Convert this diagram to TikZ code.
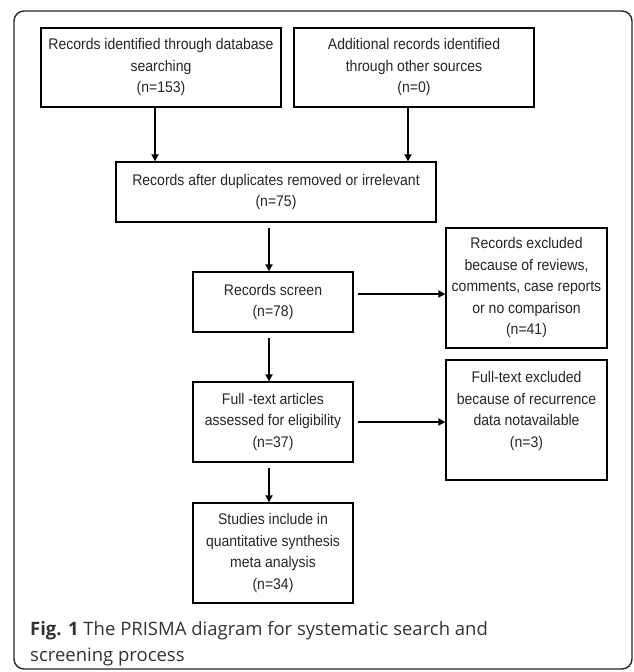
\documentclass[tikz,border=0pt]{standalone}
\usepackage{fontspec}
\setmainfont{Liberation Sans}[FakeStretch=0.91]
\newfontfamily\capfont{Open Sans}
\usetikzlibrary{positioning,arrows.meta}

\begin{document}
\begin{tikzpicture}[x=1pt,y=-1pt,
		box/.style={draw,line width=1.3pt,align=center,inner sep=0pt,text=black!85,font=\fontsize{15.4}{21.5}\selectfont},
		arr/.style={line width=1.7pt,-{Triangle[length=7pt,width=7pt]}}]
		\useasboundingbox (0,0) rectangle (633,672);
		\draw [line width=1.4pt,black!85,rounded corners=10pt] (14,11) rectangle (632,669);
		% top row
		\node [box,minimum width=240pt,minimum height=79pt] (db) at (161,67.5) {Records identified through database\\searching\\(n=153)};
		\node [box,minimum width=240pt,minimum height=79pt] (other) at (414,67.5) {Additional records identified\\through other sources\\(n=0)};
		\node [box,minimum width=320pt,minimum height=60pt] (dup) at (276,192) {Records after duplicates removed or irrelevant\\(n=75)};
		% main column
		\node [box,minimum width=160pt,minimum height=60pt] (screen) at (273,302) {Records screen\\(n=78)};
		\node [box,minimum width=160pt,minimum height=80pt] (full) at (273,422) {Full -text articles\\assessed for eligibility\\(n=37)};
		\node [box,minimum width=160pt,minimum height=100pt] (incl) at (273,553) {Studies include in\\quantitative synthesis\\meta analysis\\(n=34)};
		% excluded
		\node [box,minimum width=161pt,minimum height=120pt] (exrec) at (526.5,288) {Records excluded\\because of reviews,\\comments, case reports\\or no comparison\\(n=41)};
		\node [box,minimum width=161pt,minimum height=120pt] (exfull) at (526.5,420) {Full-text excluded\\because of recurrence\\data notavailable\\(n=3)\\\mbox{}};
		\coordinate (c1) at (155,0);
		\coordinate (c2) at (408,0);
		\coordinate (c3) at (269,0);
		\draw [arr] (c1 |- db.south) -- (c1 |- dup.north);
		\draw [arr] (c2 |- other.south) -- (c2 |- dup.north);
		\draw [arr,shorten <=5pt] (c3 |- dup.south) -- (c3 |- screen.north);
		\draw [arr,shorten <=5pt] (c3 |- screen.south) -- (c3 |- full.north);
		\draw [arr,shorten <=5pt] (c3 |- full.south) -- (c3 |- incl.north);
		\draw [arr,shorten <=4pt] ([yshift=8pt]screen.east) -- ([yshift=8pt]screen.east -| exrec.west);
		\draw [arr,shorten <=4pt] (full.east) -- (full.east -| exfull.west);
		\node [anchor=base west,inner sep=0pt,align=left,font=\capfont\fontsize{18.5}{26}\selectfont,text=black!80] (cap) at (30,661) {\textbf{Fig. 1} The PRISMA diagram for systematic search and\\screening process};
	\end{tikzpicture}
\end{document}
